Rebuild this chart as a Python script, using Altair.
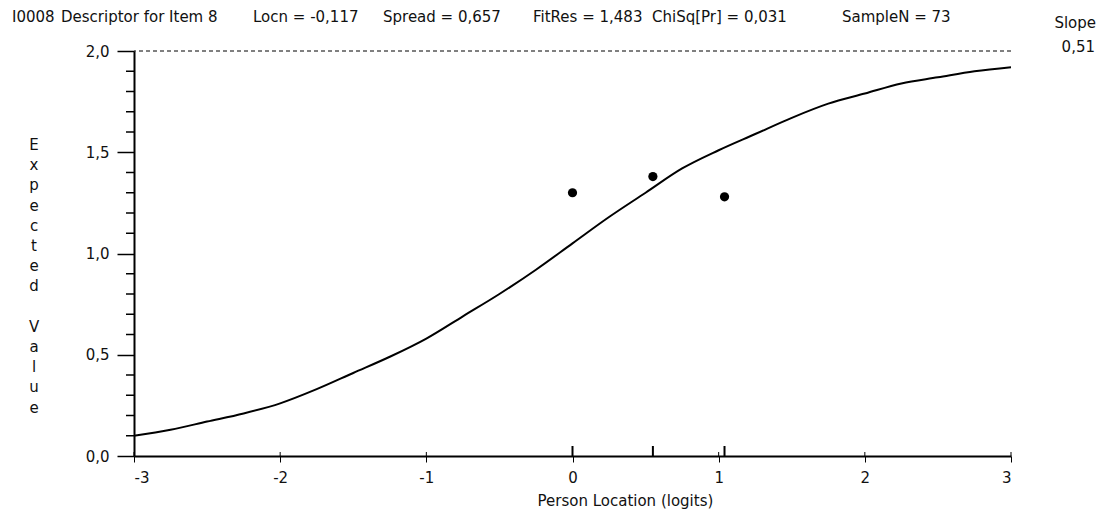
import altair as alt
import pandas as pd

# ---- data ----
curve_x = [-3.0, -2.75, -2.5, -2.25, -2.0, -1.75, -1.5, -1.25, -1.0, -0.75, -0.5, -0.25,
           0.0, 0.25, 0.5, 0.75, 1.0, 1.25, 1.5, 1.75, 2.0, 2.25, 2.5, 2.75, 3.0]
curve_y = [0.10, 0.13, 0.17, 0.21, 0.26, 0.33, 0.41, 0.49, 0.58, 0.69, 0.80, 0.92,
           1.05, 1.18, 1.30, 1.42, 1.51, 1.59, 1.67, 1.74, 1.79, 1.84, 1.87, 1.90, 1.92]
obs_x = [0.0, 0.55, 1.04]
obs_y = [1.30, 1.38, 1.28]
x_ticks = [-3, -2, -1, 0, 1, 2, 3]
y_major = [0.0, 0.5, 1.0, 1.5, 2.0]
y_minor = [0.1, 0.2, 0.3, 0.4, 0.6, 0.7, 0.8, 0.9, 1.1, 1.2, 1.3, 1.4, 1.6, 1.7, 1.8, 1.9]
max_score = [2.0]
header_parts = ["I0008", "Descriptor for Item 8", "Locn = -0,117", "Spread = 0,657",
                "FitRes = 1,483", "ChiSq[Pr] = 0,031", "SampleN = 73"]
slope_label = "Slope"
slope_value = "0,51"
x_title = "Person Location (logits)"
y_title = "Expected Value"

# ---- layout ----
W, H = 877, 405
LEFT, TOP = 134, 51
FONT = "DejaVu Sans"
FS = 15
INK = "#111111"
LH = 20.2
header_x = [12, 61, 253, 383, 533, 652, 842]

xs = alt.Scale(domain=[-3, 3], nice=False, zero=False)
ys = alt.Scale(domain=[0, 2], nice=False, zero=False)

curve_df = pd.DataFrame({"x": curve_x, "y": curve_y})
obs_df = pd.DataFrame({"x": obs_x, "y": obs_y})
minor_df = pd.DataFrame({"v": y_minor})
xt_df = pd.DataFrame({"v": x_ticks})
top_df = pd.DataFrame({"v": max_score})

x_axis = alt.Axis(
    values=x_ticks, labelExpr="'' + datum.value", grid=False,
    tickSize=6, tickWidth=1, tickColor="black", domainColor="black", domainWidth=2,
    labelFont=FONT, labelFontSize=FS, labelColor=INK, labelPadding=8,
    title=x_title, titleFont=FONT, titleFontSize=FS, titleFontWeight="normal",
    titleColor=INK, titleBaseline="alphabetic", titleAlign="left",
    titleX=537 - LEFT, titleY=505 - (TOP + H),
)
y_axis = alt.Axis(
    values=y_major, labelExpr="replace(format(datum.value, '.1f'), '.', ',')", grid=False,
    tickSize=17, tickWidth=1.5, tickColor="black", domainColor="black", domainWidth=2,
    labelFont=FONT, labelFontSize=FS, labelColor=INK, labelPadding=8,
    title=None,
)

curve = alt.Chart(curve_df).mark_line(color="black", strokeWidth=2, interpolate="monotone").encode(
    x=alt.X("x:Q", scale=xs, axis=x_axis),
    y=alt.Y("y:Q", scale=ys, axis=y_axis),
)
points = alt.Chart(obs_df).mark_circle(size=85, color="black", opacity=1).encode(
    x=alt.X("x:Q", scale=xs),
    y=alt.Y("y:Q", scale=ys),
)
class_marks = alt.Chart(obs_df).mark_rule(color="black", strokeWidth=2).encode(
    x=alt.X("x:Q", scale=xs),
    y=alt.value(H - 10),
    y2=alt.value(H),
)
x_tick_up = alt.Chart(xt_df).mark_rule(color="black", strokeWidth=1).encode(
    x=alt.X("v:Q", scale=xs),
    y=alt.value(H - 4),
    y2=alt.value(H),
)
minor = alt.Chart(minor_df).mark_rule(color="black", strokeWidth=1.5).encode(
    y=alt.Y("v:Q", scale=ys),
    x=alt.value(-8),
    x2=alt.value(0),
)
top_line = alt.Chart(top_df).mark_rule(color="black", strokeWidth=1, strokeDash=[4, 3]).encode(
    y=alt.Y("v:Q", scale=ys),
)


def label(text, px, py, align):
    return alt.Chart(top_df).mark_text(
        text=text, align=align, baseline="alphabetic", font=FONT, fontSize=FS, color=INK
    ).encode(x=alt.value(px - LEFT), y=alt.value(py - TOP))


# vertical y-axis title, one upright letter per line, words stacked
word1, word2 = y_title.split(" ")


def stacked(word, top_y):
    return alt.Chart(top_df).mark_text(
        text=list(word), align="center", baseline="top", font=FONT, fontSize=FS,
        color=INK, lineHeight=LH,
    ).encode(x=alt.value(34 - LEFT), y=alt.value(top_y))


texts = [label(t, px, 22, "left") for t, px in zip(header_parts, header_x)]
texts.append(label(slope_label, 1096, 28, "right"))
texts.append(label(slope_value, 1095, 52, "right"))
texts.append(stacked(word1, 87))
texts.append(stacked(word2, 87 + (len(word1) + 1) * LH))

chart = alt.layer(curve, top_line, minor, x_tick_up, class_marks, points, *texts).properties(
    width=W, height=H,
    autosize=alt.AutoSizeParams(type="none"),
    padding={"left": LEFT - 8, "top": TOP - 8, "right": 94, "bottom": 53},
    background="white",
).configure_view(stroke=None)

chart.save("out.html", embed_options={"renderer": "svg", "actions": False})
